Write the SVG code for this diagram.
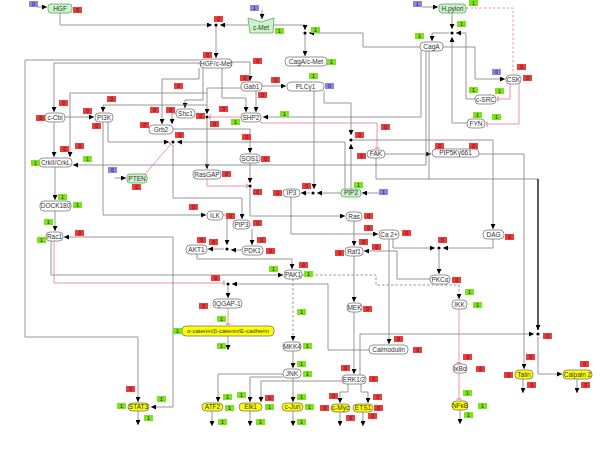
<svg xmlns="http://www.w3.org/2000/svg" width="600" height="456" viewBox="0 0 600 456">
<defs>
<marker id="a" viewBox="0 0 6 6" refX="6" refY="3" markerWidth="5" markerHeight="5" markerUnits="userSpaceOnUse" orient="auto"><path d="M0,0L6,3L0,6z" fill="#000"/></marker>
<marker id="t" viewBox="0 0 2 8" refX="1" refY="4" markerWidth="1.2" markerHeight="6" markerUnits="userSpaceOnUse" orient="auto"><rect width="2" height="8" fill="#e57a98"/></marker>
<style>
.n{fill:#fff;stroke:#777;stroke-width:0.8}
.g{fill:#cdf3cd;stroke:#5a5;stroke-width:0.8}
.y{fill:#ffff00;stroke:#777;stroke-width:0.8}
text{font-family:"Liberation Sans",Arial,sans-serif;font-size:6.5px;fill:#333;text-anchor:middle}
.r{fill:#ee3b3b}
.e{fill:#7be31c}
.u{fill:#8585ea}
.bt{font-size:5.2px;fill:#222}
#conn path{fill:none;stroke:#8a8a8a;stroke-width:0.9}
#conn path.p{stroke:#e57a98;stroke-width:0.8}
#conn path.d{stroke-dasharray:2.5,2}
#conn path.k{stroke:#000;stroke-width:1.3}
#conn circle{fill:#000}
</style>
</defs>
<rect width="600" height="456" fill="#fff"/>

<g id="conn">
<path d="M37,7H47" marker-end="url(#a)"/>
<path d="M262,10V19" marker-end="url(#a)"/>
<path d="M422,7H438" marker-end="url(#a)"/>
<path d="M115,178H126" marker-end="url(#a)"/>
<path d="M379,193H362" marker-end="url(#a)"/>
<path d="M60,13V25H212" marker-end="url(#a)"/>
<path d="M248,25H220" marker-end="url(#a)"/>
<path d="M216,25V58" marker-end="url(#a)"/>
<circle cx="216" cy="25" r="1.6"/>
<path d="M274,25H305V30" marker-end="url(#a)"/>
<path d="M420,47H363V33H309" marker-end="url(#a)"/>
<path d="M305,33V56" marker-end="url(#a)"/>
<circle cx="305" cy="33" r="1.6"/>
<path d="M452,13V29" marker-end="url(#a)"/>
<path d="M475,99H466V33H456" marker-end="url(#a)"/>
<path d="M467,123H452V37" marker-end="url(#a)"/>
<path d="M449,33H432V41" marker-end="url(#a)"/>
<circle cx="452" cy="33" r="1.6"/>
<path d="M443,47H475V79H505" marker-end="url(#a)"/>
<path class="p d" d="M466,8H513V74"/>
<path class="p" d="M510,84V99H498" marker-end="url(#t)"/>
<path class="p" d="M519,84V124H487" marker-end="url(#t)"/>
<path d="M200,60H25V337H138V402" marker-end="url(#a)"/>
<path d="M200,63H54V112" marker-end="url(#a)"/>
<path d="M232,62H250V81" marker-end="url(#a)"/>
<path d="M203,68V100H185V108" marker-end="url(#a)"/>
<path d="M199,68V79H162V124" marker-end="url(#a)"/>
<path d="M222,68V98H246V112" marker-end="url(#a)"/>
<path d="M262,86H286" marker-end="url(#a)"/>
<path d="M256,91V112" marker-end="url(#a)"/>
<path d="M241,88H207V114" marker-end="url(#a)"/>
<path d="M207,105H103V112" marker-end="url(#a)"/>
<path d="M207,93H70V157" marker-end="url(#a)"/>
<circle cx="207" cy="117" r="1.6"/>
<path d="M207,119V169" marker-end="url(#a)"/>
<path class="p" d="M241,117H210" marker-end="url(#t)"/>
<path d="M176,113H172V124" marker-end="url(#a)"/>
<path d="M65,117H94" marker-end="url(#a)"/>
<path d="M54,122V157" marker-end="url(#a)"/>
<path d="M55,167V200" marker-end="url(#a)"/>
<path d="M55,211V231" marker-end="url(#a)"/>
<path d="M108,122V142H169" marker-end="url(#a)"/>
<path d="M103,122V215H206" marker-end="url(#a)"/>
<circle cx="173" cy="142" r="1.6"/>
<path d="M345,189V142H177" marker-end="url(#a)"/>
<path d="M173,145V198H242V219" marker-end="url(#a)"/>
<path class="p" d="M145,174L171,144" marker-end="url(#t)"/>
<path d="M324,91V103H351V135" marker-end="url(#a)"/>
<path d="M351,189V144" marker-end="url(#a)"/>
<circle cx="351" cy="140" r="1.6"/>
<path d="M353,140H493V229" marker-end="url(#a)"/>
<path d="M314,91V189" marker-end="url(#a)"/>
<path d="M341,193H317" marker-end="url(#a)"/>
<circle cx="313" cy="193" r="1.6"/>
<path d="M310,193H301" marker-end="url(#a)"/>
<path d="M291,197V234H378" marker-end="url(#a)"/>
<path d="M173,129H250V153" marker-end="url(#a)"/>
<path d="M250,163V183" marker-end="url(#a)"/>
<circle cx="250" cy="186" r="1.6"/>
<path d="M250,188V216H345" marker-end="url(#a)"/>
<path class="p" d="M207,179V186H247" marker-end="url(#t)"/>
<path d="M354,221V246" marker-end="url(#a)"/>
<path d="M354,256V302" marker-end="url(#a)"/>
<path d="M354,312V374" marker-end="url(#a)"/>
<path d="M430,279H397V251H364" marker-end="url(#a)"/>
<path d="M393,239V248H435" marker-end="url(#a)"/>
<path d="M493,239V248H443" marker-end="url(#a)"/>
<circle cx="439" cy="248" r="1.6"/>
<path d="M439,250V274" marker-end="url(#a)"/>
<path d="M389,239V344" marker-end="url(#a)"/>
<path d="M223,215H227V245" marker-end="url(#a)"/>
<path d="M252,229V245" marker-end="url(#a)"/>
<path d="M242,250H231" marker-end="url(#a)"/>
<circle cx="227" cy="249" r="1.6"/>
<path d="M224,249H208" marker-end="url(#a)"/>
<path d="M197,254V259H292V269" marker-end="url(#a)"/>
<path d="M51,241V275H283" marker-end="url(#a)"/>
<path class="p" d="M54,241V283H224" marker-end="url(#t)"/>
<path d="M173,237H64" marker-end="url(#a)"/>
<path d="M173,237V407H151" marker-end="url(#a)"/>
<path d="M369,350H328V284H232" marker-end="url(#a)"/>
<circle cx="228" cy="284" r="1.6"/>
<path d="M228,286V298" marker-end="url(#a)"/>
<path class="p" d="M228,308V324" marker-end="url(#t)"/>
<path d="M228,336V350" marker-end="url(#a)"/>
<path class="d" d="M302,275H376V285H459V299" marker-end="url(#a)"/>
<path class="d" d="M293,279V341" marker-end="url(#a)"/>
<path d="M293,351V368" marker-end="url(#a)"/>
<path d="M283,374H218V402" marker-end="url(#a)"/>
<path d="M283,377H250V402" marker-end="url(#a)"/>
<path d="M293,378V402" marker-end="url(#a)"/>
<path d="M342,381H261V402" marker-end="url(#a)"/>
<path d="M348,384V392H340V403" marker-end="url(#a)"/>
<path d="M361,384V392H368V403" marker-end="url(#a)"/>
<path d="M360,375V334H534" marker-end="url(#a)"/>
<circle cx="538" cy="334" r="1.6"/>
<path d="M538,337V374H562" marker-end="url(#a)"/>
<path d="M376,158V179H538"/>
<path class="k" d="M538,179V330" marker-end="url(#a)"/>
<path d="M385,154H431" marker-end="url(#a)"/>
<path d="M479,154H524V369" marker-end="url(#a)"/>
<path class="p" d="M261,121V123H377V148" marker-end="url(#t)"/>
<path d="M421,51V117H263" marker-end="url(#a)"/>
<path d="M426,51V165H73" marker-end="url(#a)"/>
<path d="M429,51V179"/>
<path class="p" d="M459,309V363" marker-end="url(#t)"/>
<path class="p" d="M459,373V399" marker-end="url(#t)"/>
<path d="M138,411V425" marker-end="url(#a)"/>
<path d="M212,411V426" marker-end="url(#a)"/>
<path d="M250,411V426" marker-end="url(#a)"/>
<path d="M293,411V426" marker-end="url(#a)"/>
<path d="M340,412V426" marker-end="url(#a)"/>
<path d="M363,412V426" marker-end="url(#a)"/>
<path d="M460,410V424" marker-end="url(#a)"/>
<path d="M523,379V393" marker-end="url(#a)"/>
<path d="M577,379V393" marker-end="url(#a)"/>
</g>

<g id="HGF"><rect class="g" x="48" y="4" width="24" height="9" rx="3"/><text x="60" y="10.6">HGF</text>
<rect class="u" x="29" y="1" width="9" height="6"/><text class="bt" x="33.5" y="6">0</text>
<rect class="r" x="73" y="7" width="9" height="6"/><text class="bt" x="77.5" y="12">0</text></g>
<g id="cMet"><polygon class="g" points="248,18 261,22 274,18 273,33 250,33"/><text x="261" y="30">c-Met</text>
<rect class="u" x="250" y="5" width="9" height="6"/><text class="bt" x="254.5" y="10">1</text>
<rect class="e" x="275" y="28" width="9" height="6"/><text class="bt" x="279.5" y="33">1</text>
<rect class="r" x="214" y="16" width="9" height="6"/><text class="bt" x="218.5" y="21">0</text>
<rect class="e" x="311" y="27" width="9" height="6"/><text class="bt" x="315.5" y="32">1</text></g>
<g id="HGFcMet"><rect class="n" x="200" y="59" width="32" height="9" rx="4"/><text x="216" y="65.6">HGF/c-Met</text>
<rect class="r" x="203" y="52" width="9" height="6"/><text class="bt" x="207.5" y="57">0</text>
<rect class="r" x="253" y="58" width="9" height="6"/><text class="bt" x="257.5" y="63">0</text></g>
<g id="CagAcMet"><rect class="n" x="285" y="57" width="42" height="9" rx="4"/><text x="306" y="63.6">CagA/c-Met</text>
<rect class="e" x="327" y="59" width="9" height="6"/><text class="bt" x="331.5" y="64">1</text></g>
<g id="Gab1"><rect class="n" x="241" y="82" width="21" height="9" rx="4"/><text x="251.5" y="88.6">Gab1</text>
<rect class="r" x="240" y="75" width="9" height="6"/><text class="bt" x="244.5" y="80">0</text>
<rect class="r" x="271" y="77" width="9" height="6"/><text class="bt" x="275.5" y="82">0</text>
<rect class="r" x="258" y="92" width="9" height="6"/><text class="bt" x="262.5" y="97">0</text></g>
<g id="PLCg1"><rect class="n" x="287" y="82" width="37" height="9" rx="4"/><text x="305.5" y="88.6">PLCγ1</text>
<rect class="e" x="309" y="73" width="9" height="6"/><text class="bt" x="313.5" y="78">1</text>
<rect class="u" x="325" y="83" width="9" height="6"/><text class="bt" x="329.5" y="88">0</text></g>
<g id="CagA"><rect class="n" x="420" y="42" width="23" height="9" rx="4"/><text x="431.5" y="48.6">CagA</text>
<rect class="e" x="415" y="33" width="9" height="6"/><text class="bt" x="419.5" y="38">1</text></g>
<g id="Hpylori"><rect class="g" x="439" y="4" width="27" height="9" rx="3"/><text x="452.5" y="10.6">H.pylori</text>
<rect class="u" x="413" y="1" width="9" height="6"/><text class="bt" x="417.5" y="6">1</text>
<rect class="e" x="469" y="0" width="9" height="6"/><text class="bt" x="473.5" y="5">1</text>
<rect class="e" x="457" y="21" width="9" height="6"/><text class="bt" x="461.5" y="26">1</text></g>
<g id="CSK"><rect class="n" x="506" y="75" width="15" height="9" rx="4"/><text x="513.5" y="81.6">CSK</text>
<rect class="u" x="492" y="69" width="9" height="6"/><text class="bt" x="496.5" y="74">0</text>
<rect class="r" x="517" y="64" width="9" height="6"/><text class="bt" x="521.5" y="69">0</text>
<rect class="r" x="523" y="75" width="9" height="6"/><text class="bt" x="527.5" y="80">0</text></g>
<g id="cSRC"><rect class="n" x="475" y="95" width="21" height="9" rx="4"/><text x="485.5" y="101.6">c-SRC</text>
<rect class="e" x="469" y="87" width="9" height="6"/><text class="bt" x="473.5" y="92">1</text>
<rect class="e" x="495" y="88" width="9" height="6"/><text class="bt" x="499.5" y="93">1</text></g>
<g id="FYN"><rect class="n" x="467" y="119" width="18" height="9" rx="4"/><text x="476" y="125.6">FYN</text>
<rect class="e" x="473" y="112" width="9" height="6"/><text class="bt" x="477.5" y="117">1</text>
<rect class="e" x="492" y="114" width="9" height="6"/><text class="bt" x="496.5" y="119">1</text></g>
<g id="cCbl"><rect class="n" x="45" y="113" width="20" height="9" rx="4"/><text x="55" y="119.6">c-Cbl</text>
<rect class="r" x="36" y="115" width="9" height="6"/><text class="bt" x="40.5" y="120">0</text>
<rect class="r" x="59" y="100" width="9" height="6"/><text class="bt" x="63.5" y="105">0</text>
<rect class="r" x="60" y="146" width="9" height="6"/><text class="bt" x="64.5" y="151">0</text>
<rect class="r" x="75" y="143" width="9" height="6"/><text class="bt" x="79.5" y="148">0</text></g>
<g id="PI3K"><rect class="n" x="95" y="113" width="18" height="9" rx="4"/><text x="104" y="119.6">PI3K</text>
<rect class="r" x="83" y="108" width="9" height="6"/><text class="bt" x="87.5" y="113">0</text>
<rect class="r" x="107" y="96" width="9" height="6"/><text class="bt" x="111.5" y="101">0</text>
<rect class="r" x="92" y="123" width="9" height="6"/><text class="bt" x="96.5" y="128">0</text>
<rect class="r" x="140" y="122" width="9" height="6"/><text class="bt" x="144.5" y="127">0</text></g>
<g id="Shc1"><rect class="n" x="176" y="109" width="19" height="9" rx="4"/><text x="185.5" y="115.6">Shc1</text>
<rect class="r" x="166" y="107" width="9" height="6"/><text class="bt" x="170.5" y="112">0</text>
<rect class="r" x="150" y="107" width="9" height="6"/><text class="bt" x="154.5" y="112">0</text>
<rect class="r" x="174" y="83" width="9" height="6"/><text class="bt" x="178.5" y="88">0</text></g>
<g id="Grb2"><rect class="n" x="149" y="125" width="24" height="9" rx="4"/><text x="161" y="131.6">Grb2</text>
<rect class="r" x="175" y="132" width="9" height="6"/><text class="bt" x="179.5" y="137">0</text></g>
<g id="SHP2"><rect class="n" x="241" y="113" width="20" height="9" rx="4"/><text x="251" y="119.6">SHP2</text>
<rect class="e" x="280" y="111" width="9" height="6"/><text class="bt" x="284.5" y="116">1</text>
<rect class="e" x="231" y="119" width="9" height="6"/><text class="bt" x="235.5" y="124">1</text>
<rect class="r" x="219" y="106" width="9" height="6"/><text class="bt" x="223.5" y="111">0</text>
<rect class="r" x="210" y="121" width="9" height="6"/><text class="bt" x="214.5" y="126">0</text>
<rect class="r" x="196" y="113" width="9" height="6"/><text class="bt" x="200.5" y="118">0</text>
<rect class="r" x="242" y="134" width="9" height="6"/><text class="bt" x="246.5" y="139">0</text>
<rect class="r" x="381" y="124" width="9" height="6"/><text class="bt" x="385.5" y="129">0</text></g>
<g id="CrkII"><rect class="n" x="39" y="158" width="33" height="9" rx="4"/><text x="55.5" y="164.6">CrkII/CrkL</text>
<rect class="e" x="31" y="160" width="9" height="6"/><text class="bt" x="35.5" y="165">1</text>
<rect class="e" x="83" y="156" width="9" height="6"/><text class="bt" x="87.5" y="161">1</text></g>
<g id="PTEN"><rect class="g" x="127" y="174" width="20" height="9" rx="3"/><text x="137" y="180.6">PTEN</text>
<rect class="u" x="108" y="167" width="9" height="6"/><text class="bt" x="112.5" y="172">0</text>
<rect class="r" x="132" y="184" width="9" height="6"/><text class="bt" x="136.5" y="189">0</text></g>
<g id="DOCK180"><rect class="n" x="40" y="201" width="31" height="10" rx="4"/><text x="55.5" y="208.2">DOCK180</text>
<rect class="e" x="58" y="194" width="9" height="6"/><text class="bt" x="62.5" y="199">1</text>
<rect class="e" x="73" y="202" width="9" height="6"/><text class="bt" x="77.5" y="207">1</text></g>
<g id="Rac1"><rect class="n" x="46" y="232" width="17" height="9" rx="4"/><text x="54.5" y="238.6">Rac1</text>
<rect class="e" x="44" y="219" width="9" height="6"/><text class="bt" x="48.5" y="224">1</text>
<rect class="e" x="37" y="237" width="9" height="6"/><text class="bt" x="41.5" y="242">1</text>
<rect class="r" x="75" y="230" width="9" height="6"/><text class="bt" x="79.5" y="235">0</text></g>
<g id="SOS1"><rect class="n" x="240" y="154" width="20" height="9" rx="4"/><text x="250" y="160.6">SOS1</text>
<rect class="r" x="261" y="156" width="9" height="6"/><text class="bt" x="265.5" y="161">0</text>
<rect class="r" x="253" y="189" width="9" height="6"/><text class="bt" x="257.5" y="194">0</text></g>
<g id="RasGAP"><rect class="n" x="193" y="170" width="28" height="9" rx="4"/><text x="207" y="176.6">RasGAP</text>
<rect class="r" x="222" y="171" width="9" height="6"/><text class="bt" x="226.5" y="176">0</text></g>
<g id="ILK"><rect class="n" x="207" y="211" width="16" height="9" rx="4"/><text x="215" y="217.6">ILK</text>
<rect class="r" x="189" y="204" width="9" height="6"/><text class="bt" x="193.5" y="209">0</text>
<rect class="r" x="226" y="213" width="9" height="6"/><text class="bt" x="230.5" y="218">0</text></g>
<g id="PIP3"><rect class="n" x="233" y="220" width="17" height="9" rx="4"/><text x="241.5" y="226.6">PIP3</text>
<rect class="r" x="253" y="220" width="9" height="6"/><text class="bt" x="257.5" y="225">0</text></g>
<g id="AKT1"><rect class="n" x="186" y="245" width="21" height="9" rx="4"/><text x="196.5" y="251.6">AKT1</text>
<rect class="r" x="197" y="237" width="9" height="6"/><text class="bt" x="201.5" y="242">0</text>
<rect class="r" x="209" y="239" width="9" height="6"/><text class="bt" x="213.5" y="244">0</text></g>
<g id="PDK1"><rect class="n" x="242" y="246" width="21" height="9" rx="4"/><text x="252.5" y="252.6">PDK1</text>
<rect class="r" x="257" y="237" width="9" height="6"/><text class="bt" x="261.5" y="242">0</text>
<rect class="r" x="266" y="248" width="9" height="6"/><text class="bt" x="270.5" y="253">0</text></g>
<g id="PAK1"><rect class="n" x="284" y="270" width="18" height="9" rx="4"/><text x="293" y="276.6">PAK1</text>
<rect class="e" x="269" y="266" width="9" height="6"/><text class="bt" x="273.5" y="271">1</text>
<rect class="r" x="299" y="262" width="9" height="6"/><text class="bt" x="303.5" y="267">0</text>
<rect class="e" x="304" y="271" width="9" height="6"/><text class="bt" x="308.5" y="276">1</text>
<rect class="r" x="211" y="275" width="9" height="6"/><text class="bt" x="215.5" y="280">0</text></g>
<g id="IQGAP1"><rect class="n" x="213" y="299" width="29" height="9" rx="4"/><text x="227.5" y="305.6">IQGAP-1</text>
<rect class="r" x="199" y="303" width="9" height="6"/><text class="bt" x="203.5" y="308">0</text>
<rect class="e" x="217" y="316" width="9" height="6"/><text class="bt" x="221.5" y="321">1</text></g>
<g id="catenin"><rect class="y" x="182" y="326" width="92" height="10" rx="4"/><text x="228" y="333.2" style="font-size:6px">α-catenin/β-catenin/E-cadherin</text>
<rect class="e" x="173" y="328" width="9" height="6"/><text class="bt" x="177.5" y="333">1</text>
<rect class="e" x="217" y="343" width="9" height="6"/><text class="bt" x="221.5" y="348">1</text></g>
<g id="MKK4"><rect class="n" x="283" y="342" width="18" height="9" rx="4"/><text x="292" y="348.6">MKK4</text>
<rect class="e" x="297" y="309" width="9" height="6"/><text class="bt" x="301.5" y="314">1</text>
<rect class="e" x="303" y="343" width="9" height="6"/><text class="bt" x="307.5" y="348">1</text></g>
<g id="JNK"><rect class="n" x="283" y="369" width="18" height="9" rx="4"/><text x="292" y="375.6">JNK</text>
<rect class="e" x="297" y="361" width="9" height="6"/><text class="bt" x="301.5" y="366">1</text>
<rect class="e" x="303" y="371" width="9" height="6"/><text class="bt" x="307.5" y="376">1</text></g>
<g id="ATF2"><rect class="y" x="202" y="403" width="21" height="8" rx="4"/><text x="212.5" y="409.2">ATF2</text>
<rect class="e" x="223" y="394" width="9" height="6"/><text class="bt" x="227.5" y="399">1</text>
<rect class="e" x="225" y="405" width="9" height="6"/><text class="bt" x="229.5" y="410">1</text>
<rect class="e" x="218" y="419" width="9" height="6"/><text class="bt" x="222.5" y="424">1</text></g>
<g id="Elk1"><rect class="y" x="239" y="403" width="23" height="8" rx="4"/><text x="250.5" y="409.2">Elk1</text>
<rect class="e" x="237" y="392" width="9" height="6"/><text class="bt" x="241.5" y="397">1</text>
<rect class="r" x="265" y="395" width="9" height="6"/><text class="bt" x="269.5" y="400">0</text>
<rect class="e" x="265" y="404" width="9" height="6"/><text class="bt" x="269.5" y="409">1</text>
<rect class="e" x="256" y="419" width="9" height="6"/><text class="bt" x="260.5" y="424">1</text></g>
<g id="cJun"><rect class="y" x="282" y="403" width="21" height="8" rx="4"/><text x="292.5" y="409.2">c-Jun</text>
<rect class="e" x="297" y="394" width="9" height="6"/><text class="bt" x="301.5" y="399">1</text>
<rect class="e" x="305" y="404" width="9" height="6"/><text class="bt" x="309.5" y="409">1</text>
<rect class="e" x="297" y="419" width="9" height="6"/><text class="bt" x="301.5" y="424">1</text></g>
<g id="cMyc"><rect class="y" x="331" y="404" width="19" height="8" rx="4"/><text x="340.5" y="410.2">c-Myc</text>
<rect class="r" x="329" y="393" width="9" height="6"/><text class="bt" x="333.5" y="398">0</text>
<rect class="r" x="320" y="405" width="9" height="6"/><text class="bt" x="324.5" y="410">0</text>
<rect class="r" x="346" y="415" width="9" height="6"/><text class="bt" x="350.5" y="420">0</text></g>
<g id="ETS1"><rect class="y" x="353" y="404" width="20" height="8" rx="4"/><text x="363" y="410.2">ETS1</text>
<rect class="r" x="373" y="394" width="9" height="6"/><text class="bt" x="377.5" y="399">0</text>
<rect class="r" x="374" y="405" width="9" height="6"/><text class="bt" x="378.5" y="410">0</text>
<rect class="r" x="368" y="413" width="9" height="6"/><text class="bt" x="372.5" y="418">0</text></g>
<g id="ERK"><rect class="n" x="342" y="375" width="24" height="9" rx="4"/><text x="354" y="381.6">ERK1/2</text>
<rect class="r" x="341" y="365" width="9" height="6"/><text class="bt" x="345.5" y="370">0</text>
<rect class="r" x="369" y="376" width="9" height="6"/><text class="bt" x="373.5" y="381">0</text></g>
<g id="Calmodulin"><rect class="n" x="369" y="345" width="39" height="9" rx="4"/><text x="388.5" y="351.6">Calmodulin</text>
<rect class="r" x="394" y="336" width="9" height="6"/><text class="bt" x="398.5" y="341">0</text>
<rect class="r" x="413" y="347" width="9" height="6"/><text class="bt" x="417.5" y="352">0</text></g>
<g id="MEK"><rect class="n" x="347" y="303" width="15" height="9" rx="4"/><text x="354.5" y="309.6">MEK</text>
<rect class="r" x="363" y="306" width="9" height="6"/><text class="bt" x="367.5" y="311">0</text></g>
<g id="Ras"><rect class="n" x="346" y="212" width="16" height="9" rx="4"/><text x="354" y="218.6">Ras</text>
<rect class="r" x="364" y="213" width="9" height="6"/><text class="bt" x="368.5" y="218">0</text></g>
<g id="Ca"><rect class="n" x="379" y="230" width="20" height="9" rx="4"/><text x="389" y="236.6">Ca 2+</text>
<rect class="r" x="364" y="225" width="9" height="6"/><text class="bt" x="368.5" y="230">0</text>
<rect class="r" x="402" y="230" width="9" height="6"/><text class="bt" x="406.5" y="235">0</text></g>
<g id="Raf1"><rect class="n" x="345" y="247" width="18" height="9" rx="4"/><text x="354" y="253.6">Raf1</text>
<rect class="r" x="335" y="250" width="9" height="6"/><text class="bt" x="339.5" y="255">0</text>
<rect class="r" x="359" y="239" width="9" height="6"/><text class="bt" x="363.5" y="244">0</text>
<rect class="r" x="372" y="244" width="9" height="6"/><text class="bt" x="376.5" y="249">0</text></g>
<g id="PKCa"><rect class="n" x="430" y="275" width="20" height="9" rx="4"/><text x="440" y="281.6">PKCα</text>
<rect class="r" x="438" y="237" width="9" height="6"/><text class="bt" x="442.5" y="242">0</text></g>
<g id="PIP2"><rect class="g" x="341" y="189" width="20" height="8" rx="3"/><text x="351" y="195.2">PIP2</text>
<rect class="e" x="354" y="182" width="9" height="6"/><text class="bt" x="358.5" y="187">1</text>
<rect class="u" x="379" y="189" width="9" height="6"/><text class="bt" x="383.5" y="194">1</text>
<rect class="r" x="302" y="183" width="9" height="6"/><text class="bt" x="306.5" y="188">0</text>
<rect class="r" x="355" y="132" width="9" height="6"/><text class="bt" x="359.5" y="137">0</text></g>
<g id="IP3"><rect class="n" x="283" y="189" width="17" height="8" rx="4"/><text x="291.5" y="195.2">IP3</text>
<rect class="r" x="273" y="190" width="9" height="6"/><text class="bt" x="277.5" y="195">0</text></g>
<g id="FAK"><rect class="n" x="367" y="150" width="18" height="8" rx="4"/><text x="376" y="156.2">FAK</text>
<rect class="r" x="357" y="153" width="9" height="6"/><text class="bt" x="361.5" y="158">0</text></g>
<g id="PIP5K"><rect class="n" x="432" y="149" width="47" height="8" rx="4"/><text x="455.5" y="155.2">PIP5Kγ661</text>
<rect class="r" x="435" y="143" width="9" height="6"/><text class="bt" x="439.5" y="148">0</text>
<rect class="r" x="469" y="143" width="9" height="6"/><text class="bt" x="473.5" y="148">0</text></g>
<g id="DAG"><rect class="n" x="483" y="230" width="21" height="9" rx="4"/><text x="493.5" y="236.6">DAG</text>
<rect class="r" x="505" y="234" width="9" height="6"/><text class="bt" x="509.5" y="239">0</text></g>
<g id="IKK"><rect class="n" x="452" y="300" width="15" height="9" rx="4"/><text x="459.5" y="306.6">IKK</text>
<rect class="e" x="473" y="302" width="9" height="6"/><text class="bt" x="477.5" y="307">1</text>
<rect class="r" x="452" y="277" width="9" height="6"/><text class="bt" x="456.5" y="282">0</text>
<rect class="e" x="465" y="289" width="9" height="6"/><text class="bt" x="469.5" y="294">1</text></g>
<g id="IkBa"><rect class="n" x="453" y="364" width="14" height="9" rx="4"/><text x="460" y="370.6">IκBα</text>
<rect class="r" x="463" y="354" width="9" height="6"/><text class="bt" x="467.5" y="359">0</text>
<rect class="r" x="476" y="366" width="9" height="6"/><text class="bt" x="480.5" y="371">0</text></g>
<g id="NFkB"><rect class="y" x="452" y="401" width="16" height="9" rx="4"/><text x="460" y="407.6">NFκB</text>
<rect class="e" x="463" y="390" width="9" height="6"/><text class="bt" x="467.5" y="395">1</text>
<rect class="e" x="478" y="403" width="9" height="6"/><text class="bt" x="482.5" y="408">1</text>
<rect class="e" x="464" y="412" width="9" height="6"/><text class="bt" x="468.5" y="417">1</text></g>
<g id="Talin"><rect class="y" x="515" y="370" width="18" height="9" rx="4"/><text x="524" y="376.6">Talin</text>
<rect class="r" x="526" y="354" width="9" height="6"/><text class="bt" x="530.5" y="359">0</text>
<rect class="r" x="504" y="372" width="9" height="6"/><text class="bt" x="508.5" y="377">0</text>
<rect class="r" x="527" y="382" width="9" height="6"/><text class="bt" x="531.5" y="387">0</text></g>
<g id="Calpain2"><rect class="y" x="563" y="370" width="29" height="9" rx="4"/><text x="577.5" y="376.6">Calpain 2</text>
<rect class="r" x="580" y="361" width="9" height="6"/><text class="bt" x="584.5" y="366">0</text>
<rect class="r" x="581" y="382" width="9" height="6"/><text class="bt" x="585.5" y="387">0</text>
<rect class="r" x="543" y="333" width="9" height="6"/><text class="bt" x="547.5" y="338">0</text></g>
<g id="STAT3"><rect class="y" x="128" y="403" width="21" height="8" rx="4"/><text x="138.5" y="409.2">STAT3</text>
<rect class="r" x="126" y="386" width="9" height="6"/><text class="bt" x="130.5" y="391">0</text>
<rect class="e" x="117" y="403" width="9" height="6"/><text class="bt" x="121.5" y="408">1</text>
<rect class="e" x="144" y="415" width="9" height="6"/><text class="bt" x="148.5" y="420">1</text>
<rect class="e" x="157" y="396" width="9" height="6"/><text class="bt" x="161.5" y="401">1</text></g>
</svg>
